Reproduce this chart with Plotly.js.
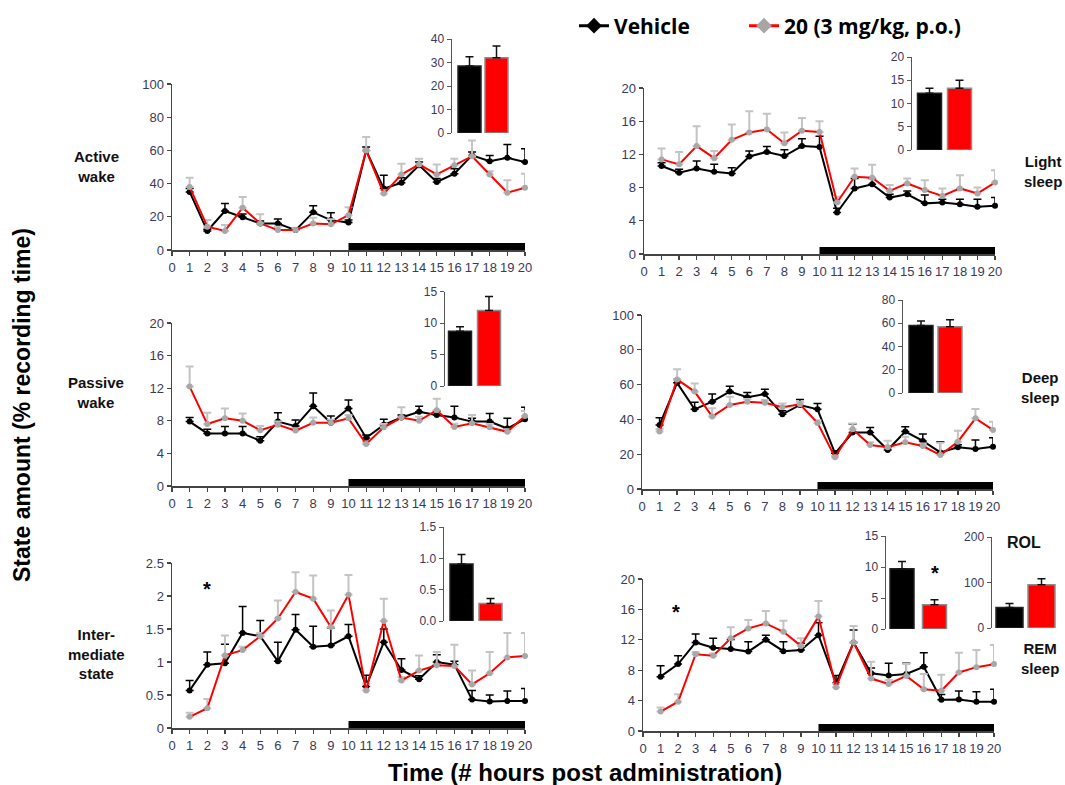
<!DOCTYPE html>
<html><head><meta charset="utf-8">
<script src="https://cdn.plot.ly/plotly-3.0.1.min.js"></script>
<style>body{margin:0;background:#fff}#chart{width:1065px;height:785px}</style>
</head><body><div id="chart"></div>
<script>
// ---------- data ----------
const hours = [1,2,3,4,5,6,7,8,9,10,11,12,13,14,15,16,17,18,19,20];
const seriesNames = ['Vehicle', '20 (3 mg/kg, p.o.)'];

// Active wake
const activeWakeVeh    = [35,11.5,23.5,19.7,16,16,12,22.7,18,16.5,60,37,40.5,51,41,46,57,53.5,55.5,53];
const activeWakeVehErr = [2,1,4.5,2,1.5,2.7,1,4,4.5,1.5,2,8,3,2,2,3,2,3.5,8,8];
const activeWakeDrug    = [38,14,11.5,25.5,16,12,12,16,15.5,21,60,34,45.5,51.5,45.5,51,56.5,45.5,34.5,37.5];
const activeWakeDrugErr = [5.5,4,3.5,6.5,5.5,2,1,3.5,3,4.7,8,2,6.5,3.5,6,4,9.5,2,7.5,8.5];

// Light sleep
const lightSleepVeh    = [10.6,9.8,10.3,9.9,9.7,11.75,12.3,11.8,13,12.9,5,7.9,8.4,6.8,7.2,6.1,6.2,6,5.7,5.8];
const lightSleepVehErr = [0.4,0.4,0.9,0.9,0.7,0.65,0.65,0.75,0.9,1.3,0.5,1.2,0.7,0.4,0.4,1.0,0.4,0.6,0.9,1.0];
const lightSleepDrug    = [11.4,10.8,13,11.55,13.75,14.65,15,13.35,14.85,14.7,6.2,9.3,9.2,7.6,8.5,7.7,7,7.9,7.3,8.6];
const lightSleepDrugErr = [1.3,1.5,2.4,0.85,1.85,2.55,1.9,1.3,1.55,1.3,0.7,1.0,1.55,0.7,0.6,1.2,0.9,1.6,0.7,1.5];

// Passive wake
const passiveWakeVeh    = [7.9,6.45,6.45,6.45,5.55,7.9,7.35,9.8,7.75,9.5,5.9,7.5,8.4,9.1,8.7,8.4,7.9,7.9,7.05,8.2];
const passiveWakeVehErr = [0.5,0.5,0.85,0.85,0.5,1.1,0.75,1.6,0.85,1.05,0.35,0.7,0.3,0.7,0.5,1.4,0.4,1.0,1.25,1.45];
const passiveWakeDrug    = [12.2,7.6,8.3,8,6.85,7.5,6.8,7.75,7.75,8.3,5.15,7.2,8.4,8,9.3,7.25,7.7,7.2,6.65,8.6];
const passiveWakeDrugErr = [2.45,1.4,1.2,0.9,0.5,0.4,0.3,0.65,0.4,0.4,0.3,0.4,1.25,0.5,1.4,0.4,1.0,0.4,0.3,0.6];

// Deep sleep
const deepSleepVeh    = [36.8,61,45.8,50.2,56,52.7,54.6,42.9,48.3,45.8,20.5,32.4,32.4,22.4,33,27.6,21,24,23,24.3];
const deepSleepVehErr = [4.2,2,4,4.4,3,2.7,2.7,2,3.2,3.4,1.5,5,3,1.5,2.8,4,6.2,1.5,5.2,5.2];
const deepSleepDrug    = [33,63,56,41.6,48.3,50.2,49.6,47,48.7,38,18.2,34.3,25.3,24,26.8,24.7,19.5,27.2,40.6,33.9];
const deepSleepDrugErr = [1.5,5.8,4.7,4.8,4.7,1.5,1.5,2.2,1.5,1.5,1,3.4,1.5,3.8,3.2,1.5,7.1,6.3,5.4,4.8];

// Intermediate state
const interStateVeh    = [0.57,0.96,0.98,1.44,1.39,1.01,1.49,1.23,1.25,1.39,0.63,1.3,0.88,0.74,1.0,0.96,0.43,0.4,0.41,0.41];
const interStateVehErr = [0.15,0.19,0.29,0.4,0.24,0.29,0.23,0.31,0.27,0.18,0.17,0.2,0.17,0.05,0.11,0.05,0.14,0.1,0.15,0.19];
const interStateDrug    = [0.17,0.3,1.1,1.18,1.39,1.66,2.06,1.96,1.53,2.02,0.57,1.62,0.72,0.87,0.95,0.94,0.66,0.83,1.07,1.09];
const interStateDrugErr = [0.06,0.14,0.3,0.05,0.05,0.27,0.3,0.35,0.25,0.3,0.1,0.34,0.05,0.23,0.2,0.32,0.21,0.32,0.37,0.35];

// REM sleep
const remSleepVeh    = [7.15,8.8,11.65,10.95,10.8,10.45,12,10.5,10.65,12.6,6.3,11.65,7.6,7.3,7.5,8.45,4.1,4.15,3.85,3.85];
const remSleepVehErr = [1.45,1.1,1.1,1.25,1.25,1.3,0.6,1.25,0.9,1.65,1.0,1.65,0.7,1.6,1.4,1.85,0.7,1.1,1.3,1.65];
const remSleepDrug    = [2.55,3.85,10.1,9.9,12.2,13.5,14.15,13.05,11.2,15.05,5.75,11.65,6.9,6.2,7.25,5.5,5.3,7.7,8.4,8.8];
const remSleepDrugErr = [0.55,1.0,0.3,0.3,1.45,1.1,1.65,1.45,1.0,2.05,0.5,2.15,2.2,0.5,1.55,2.0,2.1,2.6,2.25,2.5];

// Inset bar totals [Vehicle, 20]
const insetActiveWake  = [28.5, 32];   const insetActiveWakeErr  = [4, 5];
const insetLightSleep  = [12.2, 13.3]; const insetLightSleepErr  = [1.1, 1.7];
const insetPassiveWake = [8.7, 12];    const insetPassiveWakeErr = [0.7, 2.2];
const insetDeepSleep   = [58, 57];     const insetDeepSleepErr   = [4, 6];
const insetInterState  = [0.91, 0.28]; const insetInterStateErr  = [0.15, 0.08];
const insetRemSleep    = [9.7, 3.9];   const insetRemSleepErr    = [1.2, 0.8];
const insetROL         = [45, 95];     const insetROLErr         = [9, 13];

// ---------- layout helpers ----------
const W = 1065, H = 785;
const fx = p => p / W;
const fy = p => 1 - p / H;
const zeros = hours.map(() => 0);
const tickCol = '#3a3a58';
const axCol = '#444';
const FONT = 'Liberation Sans, Arial, sans-serif';

const panels = [
  {veh: activeWakeVeh, vehErr: activeWakeVehErr, drug: activeWakeDrug, drugErr: activeWakeDrugErr, ymax: 100, dtick: 20, box: [172, 525, 250, 84]},
  {veh: lightSleepVeh, vehErr: lightSleepVehErr, drug: lightSleepDrug, drugErr: lightSleepDrugErr, ymax: 20, dtick: 4, box: [644, 995, 254, 88]},
  {veh: passiveWakeVeh, vehErr: passiveWakeVehErr, drug: passiveWakeDrug, drugErr: passiveWakeDrugErr, ymax: 20, dtick: 4, box: [172, 525, 486, 323]},
  {veh: deepSleepVeh, vehErr: deepSleepVehErr, drug: deepSleepDrug, drugErr: deepSleepDrugErr, ymax: 100, dtick: 20, box: [642, 993, 489, 315]},
  {veh: interStateVeh, vehErr: interStateVehErr, drug: interStateDrug, drugErr: interStateDrugErr, ymax: 2.5, dtick: 0.5, box: [172, 525, 728, 563]},
  {veh: remSleepVeh, vehErr: remSleepVehErr, drug: remSleepDrug, drugErr: remSleepDrugErr, ymax: 20, dtick: 4, box: [643, 994, 731, 579]}
];

const insets = [
  {vals: insetActiveWake, err: insetActiveWakeErr, L: 452, cb: 469.5, cr: 496.5, bw: 23, y0: 133, yt: 39, ymax: 40, dtick: 10, fmt: ''},
  {vals: insetLightSleep, err: insetLightSleepErr, L: 912, cb: 929.5, cr: 959.5, bw: 24, y0: 150, yt: 57, ymax: 20, dtick: 5, fmt: ''},
  {vals: insetPassiveWake, err: insetPassiveWakeErr, L: 445, cb: 460, cr: 489, bw: 23, y0: 386, yt: 291.5, ymax: 15, dtick: 5, fmt: ''},
  {vals: insetDeepSleep, err: insetDeepSleepErr, L: 903, cb: 921, cr: 950, bw: 24, y0: 393, yt: 300, ymax: 80, dtick: 20, fmt: ''},
  {vals: insetInterState, err: insetInterStateErr, L: 444, cb: 461.5, cr: 490.5, bw: 23, y0: 621, yt: 527, ymax: 1.5, dtick: 0.5, fmt: '.1f'},
  {vals: insetRemSleep, err: insetRemSleepErr, L: 886, cb: 902, cr: 934.5, bw: 24, y0: 629, yt: 536, ymax: 15, dtick: 5, fmt: ''},
  {vals: insetROL, err: insetROLErr, L: 992, cb: 1009.5, cr: 1041.5, bw: 27, y0: 628, yt: 537, ymax: 200, dtick: 100, fmt: ''}
];

const traces = [];
const layout = {
  width: W, height: H, autosize: false,
  margin: {l: 0, r: 0, t: 0, b: 0},
  paper_bgcolor: '#fff', plot_bgcolor: 'rgba(0,0,0,0)',
  font: {family: FONT, color: '#000'},
  showlegend: true,
  legend: {orientation: 'h', x: fx(574), xanchor: 'left', y: fy(26), yanchor: 'middle',
           font: {family: 'Open Sans, sans-serif', size: 21, color: '#000'},
           bgcolor: 'rgba(0,0,0,0)', itemwidth: 30, tracegroupgap: 0},
  shapes: [], annotations: []
};

panels.forEach((p, i) => {
  const n = i + 1;
  const xa = 'x' + n, ya = 'y' + n;
  const [L, R, y0, yt] = p.box;
  traces.push({
    x: hours, y: p.veh, xaxis: xa, yaxis: ya, type: 'scatter', mode: 'lines+markers',
    line: {color: '#000', width: 2}, marker: {color: '#000', size: 6},
    error_y: {type: 'data', symmetric: false, array: p.vehErr, arrayminus: zeros, color: '#000', thickness: 1.5, width: 4},
    cliponaxis: false, showlegend: false, hoverinfo: 'skip'
  });
  traces.push({
    x: hours, y: p.drug, xaxis: xa, yaxis: ya, type: 'scatter', mode: 'lines+markers',
    line: {color: '#ff0000', width: 2}, marker: {color: '#a8a8a8', size: 6},
    error_y: {type: 'data', symmetric: false, array: p.drugErr, arrayminus: zeros, color: '#c4c4c4', thickness: 2, width: 4},
    cliponaxis: false, showlegend: false, hoverinfo: 'skip'
  });
  const common = {showline: true, linecolor: axCol, linewidth: 1.5, ticks: 'outside', ticklen: 4, tickwidth: 1.2,
                  tickcolor: axCol, showgrid: false, zeroline: false, fixedrange: true,
                  tickfont: {family: FONT, size: 13, color: tickCol}};
  layout['xaxis' + n] = Object.assign({}, common, {domain: [fx(L), fx(R)], range: [0, 20], tickmode: 'linear', tick0: 0, dtick: 1, anchor: ya, ticklabelstandoff: 1});
  layout['yaxis' + n] = Object.assign({}, common, {domain: [fy(y0), fy(yt)], range: [0, p.ymax], tickmode: 'linear', tick0: 0, dtick: p.dtick, anchor: xa});
  layout.shapes.push({type: 'rect', xref: xa, yref: ya, x0: 10, x1: 20, ysizemode: 'pixel', yanchor: 0, y0: -1, y1: 7,
                      fillcolor: '#000', line: {width: 0}});
});

insets.forEach((s, j) => {
  const n = 7 + j;
  const xa = 'x' + n, ya = 'y' + n;
  const sp = s.cr - s.cb;
  const lo = -(s.cb - s.L) / sp;
  const hi = 1 + 0.6;
  const R = s.cr + 0.6 * sp;
  traces.push({
    x: [0, 1], y: s.vals, xaxis: xa, yaxis: ya, type: 'bar', width: s.bw / sp,
    marker: {color: ['#000000', '#ff0000'], line: {color: ['#222', '#8c8c8c'], width: 1.5}},
    error_y: {type: 'data', symmetric: false, array: s.err, arrayminus: [0, 0], color: '#111', thickness: 1.5, width: 4},
    showlegend: false, hoverinfo: 'skip', cliponaxis: false
  });
  layout['xaxis' + n] = {domain: [fx(s.L), fx(R)], range: [lo, hi], visible: false, anchor: ya, fixedrange: true};
  layout['yaxis' + n] = {domain: [fy(s.y0), fy(s.yt)], range: [0, s.ymax], tickmode: 'linear', tick0: 0, dtick: s.dtick,
    tickformat: s.fmt, showline: true, linecolor: '#555', linewidth: 1.5, ticks: 'outside', ticklen: 4, tickcolor: '#555',
    showgrid: false, zeroline: false, anchor: xa, fixedrange: true,
    tickfont: {family: FONT, size: 12, color: tickCol}};
});

// legend-only entries (padding after the first name spreads the two entries apart)
traces.push({x: [null], y: [null], name: '<b>' + seriesNames[0] + '</b>' + '\u00a0'.repeat(9), type: 'scatter', mode: 'lines+markers',
  line: {color: '#000', width: 3}, marker: {symbol: 'diamond', size: 12, color: '#000'}, xaxis: 'x1', yaxis: 'y1'});
traces.push({x: [null], y: [null], name: '<b>' + seriesNames[1] + '</b>', type: 'scatter', mode: 'lines+markers',
  line: {color: '#ff0000', width: 3}, marker: {symbol: 'diamond', size: 12, color: '#a6a6a6'}, xaxis: 'x1', yaxis: 'y1'});

// text labels
const lab = (text, x, y, size, opts) => Object.assign({text: text, xref: 'paper', yref: 'paper', x: fx(x), y: fy(y),
  xanchor: 'center', yanchor: 'middle', showarrow: false, font: {size: size, color: '#111', family: FONT}}, opts || {});
layout.annotations.push(lab('<b>Active<br>wake</b>', 96, 167, 15));
layout.annotations.push(lab('<b>Passive<br>wake</b>', 96, 392, 15));
layout.annotations.push(lab('<b>Inter-<br>mediate<br>state</b>', 96, 654, 15));
layout.annotations.push(lab('<b>Light<br>sleep</b>', 1043, 172, 15));
layout.annotations.push(lab('<b>Deep<br>sleep</b>', 1040, 387, 15));
layout.annotations.push(lab('<b>REM<br>sleep</b>', 1040, 658, 15));
layout.annotations.push(lab('<b>ROL</b>', 1024, 542, 16));
layout.annotations.push(lab('<b>State amount (% recording time)</b>', 22, 405, 23, {textangle: -90, font: {size: 23, color: '#000', family: FONT}}));
layout.annotations.push(lab('<b>Time (# hours post administration)</b>', 585, 772, 24, {font: {size: 24, color: '#000', family: FONT}}));
// significance marks
layout.annotations.push({text: '<b>*</b>', xref: 'x5', yref: 'y5', x: 2, y: 2.1, showarrow: false, font: {size: 20, color: '#000'}});
layout.annotations.push({text: '<b>*</b>', xref: 'x6', yref: 'y6', x: 1.9, y: 15.6, showarrow: false, font: {size: 20, color: '#000'}});
layout.annotations.push({text: '<b>*</b>', xref: 'x12', yref: 'y12', x: 1, y: 9, showarrow: false, font: {size: 20, color: '#000'}});

Plotly.newPlot('chart', traces, layout, {staticPlot: true, displayModeBar: false});
</script>
</body></html>
